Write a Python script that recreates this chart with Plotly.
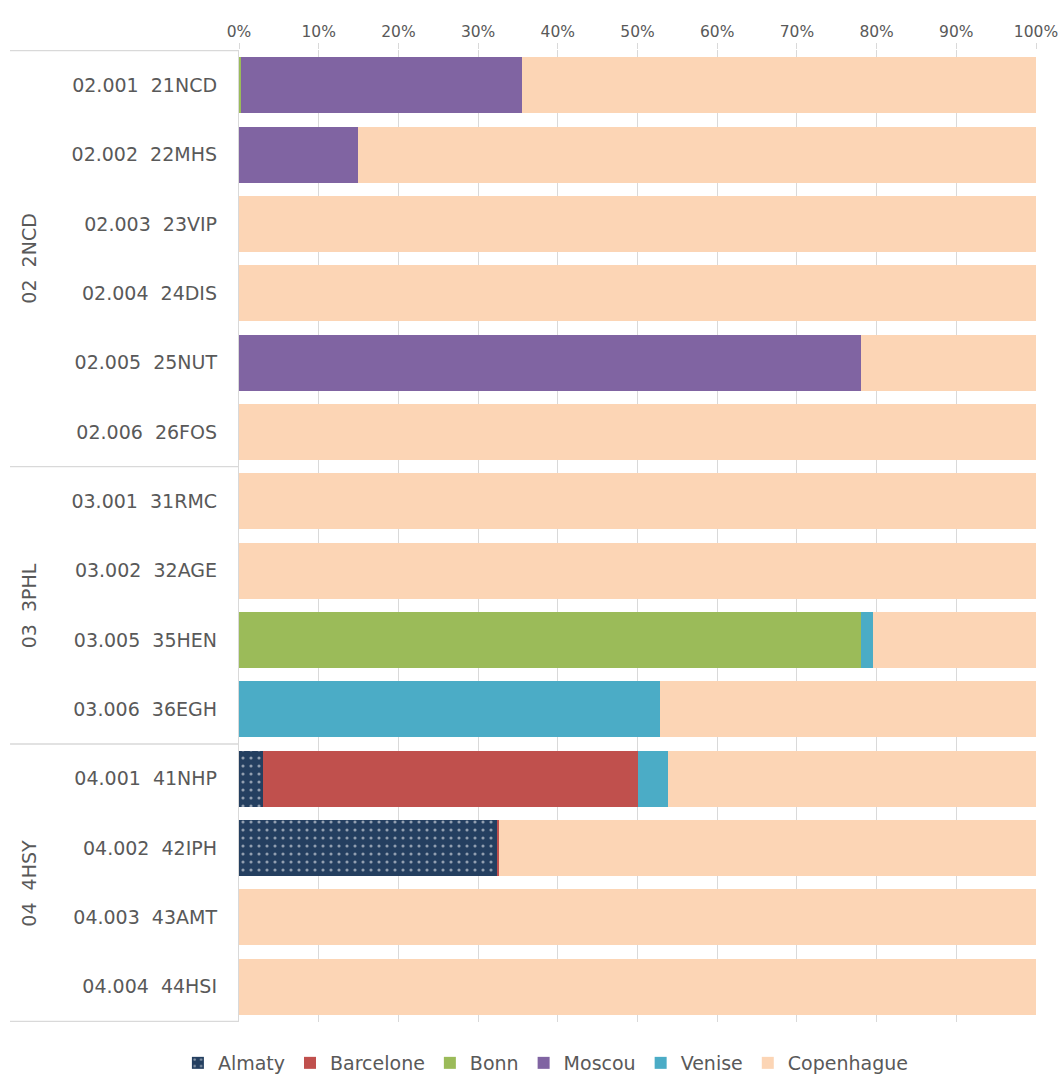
import plotly.graph_objects as go

NB = "\u00a0"
categories = [
    "02.001  21NCD", "02.002  22MHS", "02.003  23VIP", "02.004  24DIS",
    "02.005  25NUT", "02.006  26FOS", "03.001  31RMC", "03.002  32AGE",
    "03.005  35HEN", "03.006  36EGH", "04.001  41NHP", "04.002  42IPH",
    "04.003  43AMT", "04.004  44HSI",
]
groups = ["02  2NCD", "03  3PHL", "04  4HSY"]
group_first_last = [(0, 5), (6, 9), (10, 13)]

almaty     = [0, 0, 0, 0, 0, 0, 0, 0, 0, 0, 3.0, 32.4, 0, 0]
barcelone  = [0, 0, 0, 0, 0, 0, 0, 0, 0, 0, 47.0, 0.25, 0, 0]
bonn       = [0.3, 0, 0, 0, 0, 0, 0, 0, 78.0, 0, 0, 0, 0, 0]
moscou     = [35.2, 14.9, 0, 0, 78.0, 0, 0, 0, 0, 0, 0, 0, 0, 0]
venise     = [0, 0, 0, 0, 0, 0, 0, 0, 1.5, 52.8, 3.8, 0, 0, 0]
copenhague = [64.5, 85.1, 100, 100, 22.0, 100, 100, 100, 20.5, 47.2, 46.2, 67.35, 100, 100]

tick_vals = [0, 10, 20, 30, 40, 50, 60, 70, 80, 90, 100]
tick_text = ["0%", "10%", "20%", "30%", "40%", "50%", "60%", "70%", "80%", "90%", "100%"]

cats = [c.replace(" ", NB) for c in categories]

series = [
    ("Almaty", almaty, "#243F60"),
    ("Barcelone", barcelone, "#C0504D"),
    ("Bonn", bonn, "#9BBB59"),
    ("Moscou", moscou, "#8064A2"),
    ("Venise", venise, "#4BACC6"),
    ("Copenhague", copenhague, "#FCD5B5"),
]

FONT = "DejaVu Sans"
GRAY = "#595959"
LINE = "#D9D9D9"

fig = go.Figure()
for name, vals, col in series:
    marker = dict(color=col, line=dict(width=0))
    if name == "Almaty":
        marker = dict(color=col, line=dict(width=0),
                      pattern=dict(shape=".", bgcolor=col, fgcolor="white",
                                   size=8, solidity=0.12, fillmode="overlay"))
    fig.add_trace(go.Bar(y=cats, x=vals, name=name, orientation="h",
                         marker=marker, hoverinfo="x+y+name"))

shapes = []
bounds = [-0.5] + [b + 0.5 for _, b in group_first_last]
for b in bounds:
    shapes.append(dict(type="line", xref="paper", yref="y", x0=-0.2873, x1=0,
                       y0=b, y1=b, line=dict(color=LINE, width=1.3)))

annotations = []
for g, (a, b) in zip(groups, group_first_last):
    annotations.append(dict(text=g.replace(" ", NB), xref="paper", yref="y",
                            x=-0.2635, y=(a + b) / 2, showarrow=False,
                            textangle=-90, xanchor="center", yanchor="middle",
                            font=dict(family=FONT, size=19, color=GRAY)))

fig.update_layout(
    barmode="stack",
    bargap=0.19,
    width=1060, height=1077,
    margin=dict(l=239, r=24, t=50, b=55),
    paper_bgcolor="white", plot_bgcolor="white",
    font=dict(family=FONT, color=GRAY),
    shapes=shapes,
    annotations=annotations,
    legend=dict(orientation="h", xref="container", x=0.515, xanchor="center",
                yref="container", y=0.013, yanchor="middle",
                font=dict(family=FONT, size=19, color=GRAY),
                traceorder="normal", itemwidth=30),
    xaxis=dict(side="top", range=[0, 100], tickvals=tick_vals, ticktext=tick_text,
               showgrid=True, gridcolor=LINE, gridwidth=1.3, zeroline=False,
               ticks="outside", ticklen=6, tickcolor=LINE, tickwidth=1.3,
               showline=False, automargin=False,
               tickfont=dict(family=FONT, size=15.5, color=GRAY)),
    yaxis=dict(type="category", categoryorder="array", categoryarray=cats,
               autorange="reversed", showgrid=False, zeroline=False,
               showline=True, linecolor=LINE, linewidth=1.3,
               ticks="", ticklabelstandoff=17, automargin=False,
               tickfont=dict(family=FONT, size=19, color=GRAY)),
)

fig.write_html("out.html")
